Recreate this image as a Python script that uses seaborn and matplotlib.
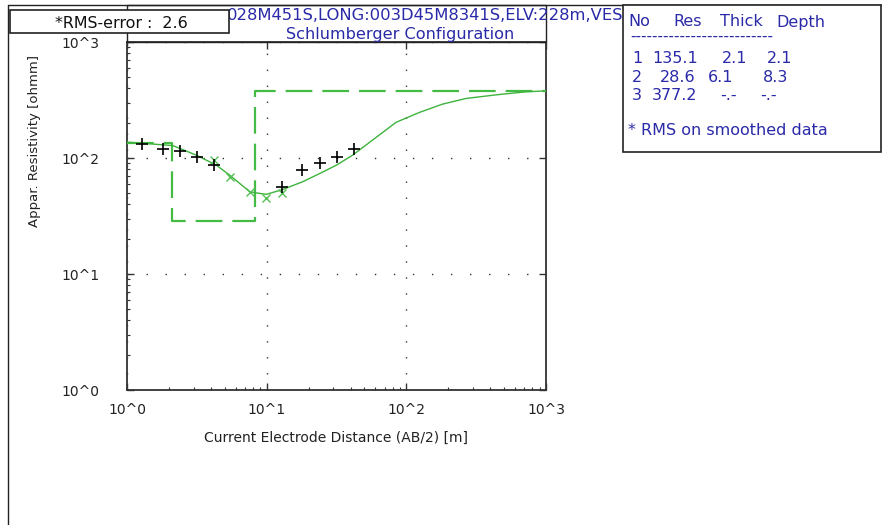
import numpy as np
import pandas as pd
import matplotlib
matplotlib.use("Agg")
import matplotlib.pyplot as plt
from matplotlib.patches import Rectangle
from matplotlib.ticker import FixedLocator, NullFormatter, LogLocator
import seaborn as sns

# ---------------- data ----------------
obs_ab2 = [1.29, 1.82, 2.39, 3.15, 4.2, 12.9, 18.0, 24.2, 31.8, 42.5]
obs_rho = [132, 120, 116, 103, 87, 56.5, 78.5, 90.6, 102, 120]

smooth_ab2 = [4.2, 5.44, 7.56, 9.95, 12.9]
smooth_rho = [95.5, 68.8, 51.2, 45.5, 50.2]

curve_ab2 = [1.0, 2.13, 3.15, 4.37, 5.44, 7.56, 8.91, 9.95, 12.9, 18.1, 23.9,
             31.5, 41.1, 57.2, 84.4, 124, 181, 267, 437, 716, 1000]
curve_rho = [137, 128, 105.5, 86.6, 71.1, 51.2, 49.5, 48.6, 53.3, 62.4, 73.4,
             86.6, 105.5, 142.5, 203, 247, 291, 326, 350, 372, 379]

layer_no = [1, 2, 3]
layer_res = [135.1, 28.6, 377.2]
layer_thick = ["2.1", "6.1", "-.-"]
layer_depth = ["2.1", "8.3", "-.-"]
depth_vals = [2.1, 8.3]

x_min, x_max = 1.0, 1000.0
tick_vals = [1, 10, 100, 1000]
tick_labels = ["10^0", "10^1", "10^2", "10^3"]

title_line1 = "028M451S,LONG:003D45M8341S,ELV:228m,VES"
title_line2 = "Schlumberger Configuration"
rms_text = "*RMS-error :  2.6"
xlabel = "Current Electrode Distance (AB/2) [m]"
ylabel = "Appar. Resistivity [ohmm]"
header = ["No", "Res", "Thick", "Depth"]
note = "* RMS on smoothed data"

# ---------------- style ----------------
sns.set_style("white")
plt.rcParams['font.family'] = ['DejaVu Sans']

W, H = 882, 525
fig = plt.figure(figsize=(W / 100, H / 100), dpi=100, facecolor="white")

L, R, T, B = 127, 546, 42, 390
ax = fig.add_axes([L / W, 1 - B / H, (R - L) / W, (B - T) / H])
ax.set_xscale("log")
ax.set_yscale("log")
ax.set_xlim(x_min, x_max)
ax.set_ylim(1, 1000)
ax.set_facecolor("white")

green = "#3db33d"

# model (step) curve
step_x = [x_min] + depth_vals + [x_max]
step_y = layer_res + [layer_res[-1]]
df_step = pd.DataFrame({"x": step_x, "y": step_y})
sns.lineplot(data=df_step, x="x", y="y", ax=ax, drawstyle="steps-post",
             color="#44bb44", lw=1.6, dashes=False, zorder=3)
ax.lines[-1].set_dashes((12, 4.5))

# calculated curve
df_curve = pd.DataFrame({"x": curve_ab2, "y": curve_rho})
sns.lineplot(data=df_curve, x="x", y="y", ax=ax, color=green, lw=1.0,
             sort=False, zorder=4)

# smoothed data markers
df_s = pd.DataFrame({"x": smooth_ab2, "y": smooth_rho})
sns.lineplot(data=df_s, x="x", y="y", ax=ax, color="#55c055", lw=0,
             marker="x", markersize=5.5, markeredgewidth=1.0,
             markeredgecolor="#55c055", zorder=5)

# observed data markers
df_o = pd.DataFrame({"x": obs_ab2, "y": obs_rho})
sns.lineplot(data=df_o, x="x", y="y", ax=ax, color="black", lw=0,
             marker="+", markersize=8.5, markeredgewidth=1.2,
             markeredgecolor="black", zorder=6)

# ticks
ax.xaxis.set_major_locator(FixedLocator(tick_vals))
ax.yaxis.set_major_locator(FixedLocator(tick_vals))
ax.set_xticklabels(tick_labels)
ax.set_yticklabels(tick_labels)
ax.xaxis.set_minor_locator(LogLocator(base=10, subs=np.arange(2, 10)))
ax.yaxis.set_minor_locator(LogLocator(base=10, subs=np.arange(2, 10)))
ax.xaxis.set_minor_formatter(NullFormatter())
ax.yaxis.set_minor_formatter(NullFormatter())
ax.tick_params(which="major", direction="in", length=5, width=1.0,
               color="#333333", labelsize=10, labelcolor="#222222",
               left=True, bottom=True, right=True, top=True)
ax.tick_params(which="minor", direction="in", length=2.5, width=0.8,
               color="#333333", left=True, bottom=True, right=False, top=False)
ax.tick_params(axis="y", which="major", pad=20)
ax.tick_params(axis="x", which="major", pad=9)

for s in ax.spines.values():
    s.set_color("#333333")
    s.set_linewidth(1.3)
    s.set_visible(True)

# grid of dots
ax.xaxis.grid(True, which="major", linestyle=(0, (1, 10.5)), color="#333333", lw=1.0)
ax.yaxis.grid(True, which="major", linestyle=(0, (1, 12.7)), color="#333333", lw=1.0)
ax.set_axisbelow(True)

ax.set_xlabel(xlabel, fontsize=10, color="#222222", labelpad=10)
ax.set_ylabel(ylabel, fontsize=9.5, color="#222222")
ax.yaxis.set_label_coords(-0.205, 0.716)

# ---------------- overlay (pixel coords) ----------------
ov = fig.add_axes([0, 0, 1, 1], zorder=10)
ov.set_xlim(0, W)
ov.set_ylim(H, 0)
ov.axis("off")
ov.patch.set_alpha(0)

frame = "#222222"
blue = "#2a2aa8"

# outer frame lines
ov.plot([8, 8], [5, H], color=frame, lw=1.0)
ov.plot([8, W], [5, 5], color=frame, lw=1.0)

# title box
ov.add_patch(Rectangle((L, 5), R - L, T - 5, fill=False, ec=frame, lw=1.0, zorder=1))
ov.text(227, 19.5, title_line1, fontsize=11.8, color=blue, ha="left", va="baseline", zorder=2)
ov.text(400, 39, title_line2, fontsize=11.6, color=blue, ha="center", va="baseline", zorder=2)

# RMS box
ov.add_patch(Rectangle((10, 10), 219, 23, fc="white", ec=frame, lw=1.2, zorder=5))
ov.text(121, 28, rms_text, fontsize=11.4, color="#111111", ha="center", va="baseline", zorder=6)

# table box
ov.add_patch(Rectangle((623, 5), 258, 147, fc="white", ec=frame, lw=1.2, zorder=5))
hx = [628, 673, 720, 776]
for x, h in zip(hx, header):
    ov.text(x, 26.5, h, fontsize=11.5, color=blue, ha="left", va="baseline", zorder=6)
ov.text(630, 41, "-" * 26, fontsize=11, color=blue, ha="left", va="baseline", zorder=6)
row_base = [63, 82, 100]
res_x = [652, 660, 652]
thick_x = [722, 708, 720]
depth_x = [767, 763, 760]
for i, (n, r, t, d) in enumerate(zip(layer_no, layer_res, layer_thick, layer_depth)):
    y = row_base[i]
    ov.text(642, y, f"{n}", fontsize=11.5, color=blue, ha="right", va="baseline", zorder=6)
    ov.text(res_x[i], y, f"{r:.1f}", fontsize=11.5, color=blue, ha="left", va="baseline", zorder=6)
    ov.text(thick_x[i], y, t, fontsize=11.5, color=blue, ha="left", va="baseline", zorder=6)
    ov.text(depth_x[i], y, d, fontsize=11.5, color=blue, ha="left", va="baseline", zorder=6)
ov.text(628, 135, note, fontsize=11.5, color=blue, ha="left", va="baseline", zorder=6)

fig.savefig("out.png", dpi=100, facecolor="white")
